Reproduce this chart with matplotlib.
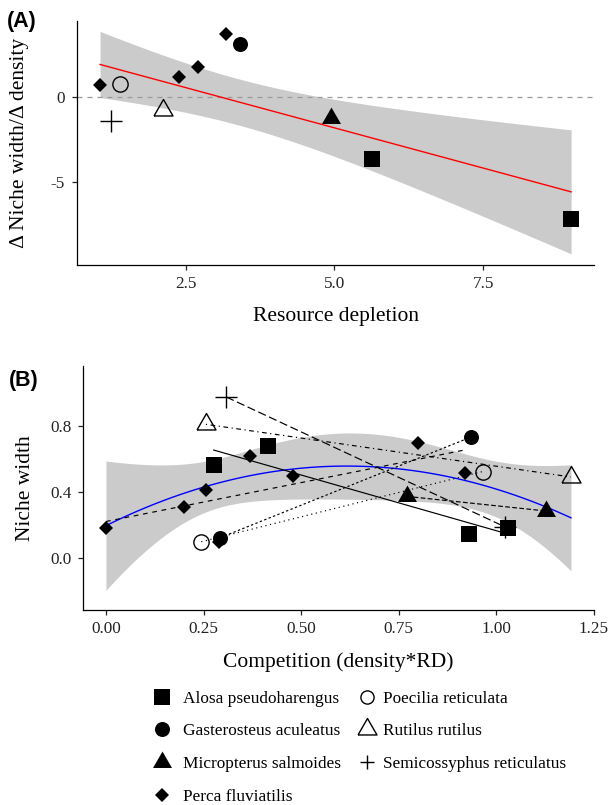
import numpy as np
import matplotlib
matplotlib.use("Agg")
import matplotlib.pyplot as plt
from matplotlib.lines import Line2D

plt.rcParams["font.family"] = ["Liberation Serif", "DejaVu Serif"]

species = ["Alosa pseudoharengus", "Gasterosteus aculeatus", "Micropterus salmoides",
           "Perca fluviatilis", "Poecilia reticulata", "Rutilus rutilus",
           "Semicossyphus reticulatus"]

# panel A, one point per study (index into species)
a_species = [0, 0, 1, 2, 3, 3, 3, 3, 4, 5, 6]
a_depletion = [5.64, 8.98, 3.41, 4.94, 1.06, 2.39, 2.71, 3.17, 1.40, 2.12, 1.24]
a_change = [-3.66, -7.23, 3.16, -1.23, 0.73, 1.22, 1.81, 3.75, 0.79, -0.72, -1.39]

# panel B, niche width against competition
b_species = [0, 0, 0, 0, 1, 1, 2, 2, 3, 3, 3, 3, 3, 3, 3, 3, 4, 4, 5, 5, 6, 6]
b_comp = [0.276, 0.415, 0.929, 1.029, 0.293, 0.935, 0.770, 1.126,
          0.0, 0.20, 0.256, 0.29, 0.368, 0.48, 0.80, 0.92,
          0.244, 0.965, 0.256, 1.191, 0.308, 1.021]
b_width = [0.565, 0.68, 0.145, 0.185, 0.125, 0.732, 0.374, 0.286,
           0.181, 0.311, 0.413, 0.10, 0.619, 0.498, 0.699, 0.514,
           0.10, 0.524, 0.809, 0.491, 0.974, 0.191]

# look of each species
tri = [(-1, -0.577), (1, -0.577), (0, 1.155), (-1, -0.577)]
markers = ["s", "o", tri, "D", "o", tri, "+"]
filled = [True, True, True, True, False, False, True]
msizes = [11.5, 10.8, 15.8, 7.1, 11.0, 15.8, 16.0]
leg_sizes = [11.5, 10.8, 15.8, 7.1, 9.5, 15.8, 10.5]
dashes = ["-", (0, (2, 2)), (0, (4, 2)), (0, (4, 4)), (0, (1, 3)),
          (0, (1, 3, 4, 3)), (0, (7, 3))]


def ols_band(x, y, deg, xs, t):
    X = np.vander(x, deg + 1)
    beta = np.linalg.lstsq(X, y, rcond=None)[0]
    resid = y - X @ beta
    s2 = resid @ resid / (len(x) - deg - 1)
    cov = s2 * np.linalg.inv(X.T @ X)
    Xs = np.vander(xs, deg + 1)
    fit = Xs @ beta
    se = np.sqrt(np.einsum("ij,jk,ik->i", Xs, cov, Xs))
    return fit, fit - t * se, fit + t * se


def draw_point(ax, x, y, k, ms=None):
    ax.plot(x, y, linestyle="none", marker=markers[k],
            markersize=ms if ms else msizes[k],
            markerfacecolor="black" if filled[k] else "none",
            markeredgecolor="black",
            markeredgewidth=1.0 if (not filled[k] or k == 6) else 0.0,
            zorder=5)


def style_axes(ax):
    for s in ["top", "right"]:
        ax.spines[s].set_visible(False)
    for s in ["left", "bottom"]:
        ax.spines[s].set_linewidth(0.9)
    ax.tick_params(direction="out", length=3.6, width=0.9, labelsize=12.3,
                   colors="#222222")
    ax.tick_params(axis="x", pad=4.4)
    ax.tick_params(axis="y", pad=4.8)


W, H = 609, 805
fig = plt.figure(figsize=(W / 100, H / 100), dpi=100)

# ---- panel A
axA = fig.add_axes([76.7 / W, 1 - 265 / H, (594.3 - 76.7) / W, (265 - 20.7) / H])
xa = np.array(a_depletion)
ya = np.array(a_change)
xs = np.linspace(xa.min(), xa.max(), 100)
fit, lo, hi = ols_band(xa, ya, 1, xs, 1.96)
axA.fill_between(xs, lo, hi, color="#cbcbcb", linewidth=0, zorder=1)
axA.plot(xs, fit, color="red", linewidth=1.0, zorder=3)
axA.axhline(0, color="#9a9a9a", linewidth=0.9, linestyle=(0, (4, 4)), zorder=2)
for i in range(len(xa)):
    draw_point(axA, xa[i], ya[i], a_species[i])
axA.set_xlim(0.667, 9.37)
axA.set_ylim(-9.93, 4.54)
axA.set_xticks([2.5, 5.0, 7.5])
axA.set_xticklabels(["2.5", "5.0", "7.5"])
axA.set_yticks([-5, 0])
axA.set_yticklabels(["-5", "0"])
style_axes(axA)

# ---- panel B
axB = fig.add_axes([83.3 / W, 1 - 610 / H, (594 - 83.3) / W, (610 - 366) / H])
xb = np.array(b_comp)
yb = np.array(b_width)
sb = np.array(b_species)
xs = np.linspace(xb.min(), xb.max(), 120)
fit, lo, hi = ols_band(xb, yb, 2, xs, 2.093)
axB.fill_between(xs, lo, hi, color="#cbcbcb", linewidth=0, zorder=1)
axB.plot(xs, fit, color="blue", linewidth=1.0, zorder=3)
for k in range(len(species)):
    m = sb == k
    coef = np.polyfit(xb[m], yb[m], 1)
    xl = np.array([xb[m].min(), xb[m].max()])
    axB.plot(xl, np.polyval(coef, xl), color="black", linewidth=0.85,
             linestyle=dashes[k], zorder=4)
for i in range(len(xb)):
    draw_point(axB, xb[i], yb[i], b_species[i])
axB.set_xlim(-0.058, 1.25)
axB.set_ylim(-0.312, 1.161)
axB.set_xticks([0.0, 0.25, 0.5, 0.75, 1.0, 1.25])
axB.set_xticklabels(["0.00", "0.25", "0.50", "0.75", "1.00", "1.25"])
axB.set_yticks([0.0, 0.4, 0.8])
axB.set_yticklabels(["0.0", "0.4", "0.8"])
style_axes(axB)

# ---- labels
fig.text(335.5 / W, 1 - 316 / H, "Resource depletion", fontsize=15.5,
         ha="center", va="center")
fig.text(19.5 / W, 1 - 143 / H, "\u0394 Niche width/\u0394 density", fontsize=15.5,
         ha="center", va="center", rotation=90)
fig.text(338.7 / W, 1 - 662 / H, "Competition (density*RD)", fontsize=15.5,
         ha="center", va="center")
fig.text(26 / W, 1 - 488 / H, "Niche width", fontsize=15.5,
         ha="center", va="center", rotation=90)
fig.text(7 / W, 1 - 22 / H, "(A)", fontsize=15.5, fontweight="bold",
         family=["Liberation Sans", "DejaVu Sans"], ha="left", va="center")
fig.text(9 / W, 1 - 380 / H, "(B)", fontsize=15.5, fontweight="bold",
         family=["Liberation Sans", "DejaVu Sans"], ha="left", va="center")

# ---- legend, two columns
def handle(k):
    return Line2D([], [], linestyle="none", marker=markers[k],
                  markersize=leg_sizes[k],
                  markerfacecolor="black" if filled[k] else "none",
                  markeredgecolor="black",
                  markeredgewidth=1.0 if (not filled[k] or k == 6) else 0.0)


fig.legend([handle(k) for k in range(4)], species[:4], loc="upper left",
           bbox_to_anchor=(153.1 / W, 1 - 690.5 / H), frameon=False,
           fontsize=12.4, handlelength=1.0, handletextpad=0.756,
           labelspacing=0.98, borderpad=0, borderaxespad=0)
fig.legend([handle(k) for k in range(4, 7)], species[4:], loc="upper left",
           bbox_to_anchor=(358.1 / W, 1 - 690.5 / H), frameon=False,
           fontsize=12.4, handlelength=1.0, handletextpad=0.465,
           labelspacing=0.98, borderpad=0, borderaxespad=0)

fig.savefig("out.png", dpi=100)
